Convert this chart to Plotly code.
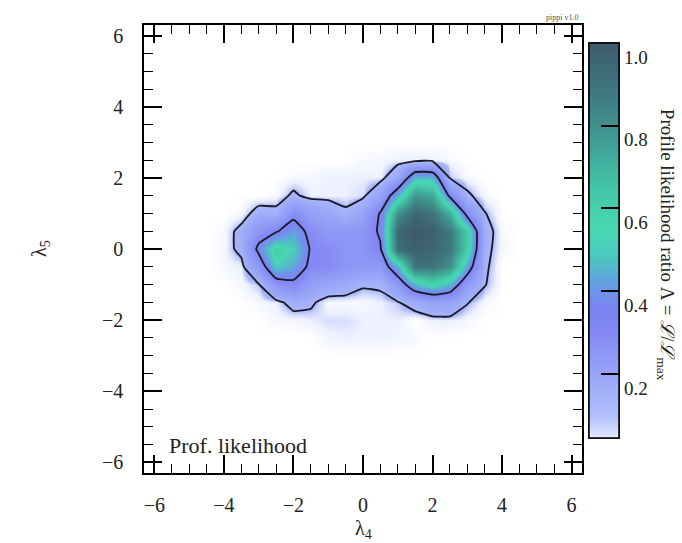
import plotly.graph_objects as go

# ---------------- data (profile likelihood ratio on a grid) ----------------
lam4_vals = [-4.5, -4.0, -3.5, -3.0, -2.5, -2.0, -1.5, -1.0, -0.5, 0.0,
             0.5, 1.0, 1.5, 2.0, 2.5, 3.0, 3.5, 4.0, 4.5]
lam5_vals = [3.0, 2.5, 2.0, 1.5, 1.0, 0.5, 0.0, -0.5, -1.0, -1.5, -2.0, -2.5, -3.0]

lik_y_p30 = [0, 0, 0, 0, 0, 0, 0, 0, 0, 0, 0, 0, 0, 0, 0, 0, 0, 0, 0]
lik_y_p25 = [0, 0, 0, 0, 0, 0, 0, 0, 0, 0.01, 0.01, 0.02, 0.02, 0.02, 0.01, 0, 0, 0, 0]
lik_y_p20 = [0, 0, 0, 0, 0, 0.01, 0.01, 0.02, 0.02, 0.02, 0.02, 0.12, 0.46, 0.45, 0.04, 0.01, 0, 0, 0]
lik_y_p15 = [0, 0, 0, 0, 0.01, 0.06, 0.02, 0.02, 0.02, 0.03, 0.14, 0.45, 0.78, 0.72, 0.28, 0.06, 0.01, 0, 0]
lik_y_p10 = [0, 0, 0.01, 0.08, 0.07, 0.26, 0.16, 0.12, 0.06, 0.14, 0.33, 0.80, 0.95, 0.90, 0.70, 0.25, 0.05, 0, 0]
lik_y_p05 = [0, 0.01, 0.07, 0.22, 0.30, 0.42, 0.26, 0.20, 0.20, 0.22, 0.34, 0.95, 1.00, 0.97, 0.88, 0.60, 0.08, 0.01, 0]
lik_y_000 = [0, 0.01, 0.07, 0.36, 0.60, 0.50, 0.30, 0.26, 0.22, 0.22, 0.30, 0.92, 0.97, 0.95, 0.88, 0.60, 0.07, 0.01, 0]
lik_y_m05 = [0, 0.01, 0.02, 0.20, 0.50, 0.42, 0.28, 0.28, 0.22, 0.20, 0.20, 0.45, 0.90, 0.90, 0.80, 0.42, 0.06, 0, 0]
lik_y_m10 = [0, 0, 0.01, 0.04, 0.22, 0.28, 0.16, 0.12, 0.10, 0.055, 0.06, 0.20, 0.45, 0.55, 0.45, 0.18, 0.05, 0, 0]
lik_y_m15 = [0, 0, 0, 0.01, 0.02, 0.08, 0.06, 0.01, 0.01, 0.01, 0.02, 0.04, 0.09, 0.14, 0.14, 0.05, 0.01, 0, 0]
lik_y_m20 = [0, 0, 0, 0, 0.01, 0.01, 0.02, 0.03, 0.03, 0.02, 0.02, 0.02, 0.0, 0.02, 0.02, 0.01, 0, 0, 0]
lik_y_m25 = [0, 0, 0, 0, 0, 0, 0, 0.015, 0.02, 0.02, 0.02, 0.015, 0.01, 0, 0, 0, 0, 0, 0]
lik_y_m30 = [0, 0, 0, 0, 0, 0, 0, 0, 0, 0, 0, 0, 0, 0, 0, 0, 0, 0, 0]

contour_levels = [0.0455, 0.3166]          # 95.4% and 68.3% CL in 2D
axis_ticks = [-6, -4, -2, 0, 2, 4, 6]
cbar_major = [0.2, 0.4, 0.6, 0.8, 1.0]
cbar_minor = [0.05, 0.10, 0.15, 0.25, 0.30, 0.35, 0.45, 0.50, 0.55,
              0.65, 0.70, 0.75, 0.85, 0.90, 0.95]

z_grid = [lik_y_p30, lik_y_p25, lik_y_p20, lik_y_p15, lik_y_p10, lik_y_p05,
          lik_y_000, lik_y_m05, lik_y_m10, lik_y_m15, lik_y_m20, lik_y_m25, lik_y_m30]

# ---------------- colour maps (value -> colour) ----------------
# map used for the filled likelihood surface
map_vals = [0.0, 0.02, 0.035, 0.0455, 0.10, 0.20, 0.28, 0.33, 0.40, 0.46, 0.53,
            0.62, 0.72, 0.82, 0.92, 1.0]
map_cols = ['#ffffff', '#eef1ff', '#ccd4fc', '#aab5f9', '#9caaf8', '#8e9af6', '#8689f4',
            '#7e84f2', '#6c98e6', '#52bcc8', '#48d8b2', '#45c6a8', '#40a898', '#3f8a88',
            '#3e6e78', '#3e5a6c']
# map shown on the colour bar
cbar_vals = [0.045, 0.10, 0.20, 0.30, 0.36, 0.42, 0.48, 0.55, 0.65, 0.75, 0.85, 1.0]
cbar_cols = ['#e2e8fe', '#b2bffb', '#97a5f9', '#8488f5', '#7a84f2', '#62a0e0',
             '#4cc6c0', '#48dab2', '#44c4a8', '#40a296', '#3f8086', '#3e5a6c']

CB_MIN, CB_MAX = 0.045, 1.0
main_scale = [[v, c] for v, c in zip(map_vals, map_cols)]
cb_scale = [[(v - CB_MIN) / (CB_MAX - CB_MIN), c] for v, c in zip(cbar_vals, cbar_cols)]

FONT = "Liberation Serif"

fig = go.Figure()

fig.add_trace(go.Heatmap(
    x=lam4_vals, y=lam5_vals, z=z_grid,
    zmin=0.0, zmax=1.0, colorscale=main_scale, zsmooth="best",
    showscale=False, hoverinfo="skip"))

fig.add_trace(go.Contour(
    x=lam4_vals, y=lam5_vals, z=z_grid,
    autocontour=False,
    contours=dict(start=contour_levels[0], end=contour_levels[1],
                  size=contour_levels[1] - contour_levels[0], coloring="none"),
    line=dict(color="#1a1a26", width=1.8, smoothing=0.4),
    showscale=False, hoverinfo="skip"))

cb_common = dict(x=1.016, xanchor="left", xpad=0, ypad=0,
                 y=0.96, yanchor="top", lenmode="pixels", len=395,
                 thicknessmode="pixels", thickness=30,
                 outlinewidth=1.5, outlinecolor="black")

# colour bar with minor ticks
fig.add_trace(go.Scatter(
    x=[None], y=[None], mode="markers", showlegend=False, hoverinfo="skip",
    marker=dict(color=[0.5], colorscale=cb_scale, cmin=CB_MIN, cmax=CB_MAX,
                showscale=True,
                colorbar=dict(**cb_common, ticks="inside", ticklen=9, tickwidth=1.3,
                              tickcolor="black", tickvals=cbar_minor,
                              showticklabels=False))))

# colour bar with major ticks + labels
fig.add_trace(go.Scatter(
    x=[None], y=[None], mode="markers", showlegend=False, hoverinfo="skip",
    marker=dict(color=[0.5], colorscale=cb_scale, cmin=CB_MIN, cmax=CB_MAX,
                showscale=True,
                colorbar=dict(**cb_common, ticks="inside", ticklen=18, tickwidth=1.5,
                              tickcolor="black", tickvals=cbar_major,
                              ticktext=["%.1f" % v for v in cbar_major],
                              ticklabelposition="outside bottom",
                              tickfont=dict(family=FONT, size=19, color="#222")))))

axis_common = dict(range=[-6.3, 6.3], tickvals=axis_ticks, showgrid=False, zeroline=False,
                   showline=True, linecolor="black", linewidth=1.6, mirror="allticks",
                   ticks="inside", ticklen=18, tickwidth=1.5, tickcolor="black",
                   tickfont=dict(family=FONT, size=20, color="#222"),
                   minor=dict(ticks="inside", ticklen=9, tickwidth=1.3, tickcolor="black",
                              dtick=0.5, tick0=0, showgrid=False))

fig.update_xaxes(**axis_common, ticklabelstandoff=13)
fig.update_yaxes(**axis_common, ticklabelstandoff=15)

fig.update_layout(
    width=682, height=543,
    margin=dict(l=144, r=100, t=25, b=70),
    plot_bgcolor="white", paper_bgcolor="white",
    font=dict(family=FONT, color="#222"),
    showlegend=False,
    annotations=[
        dict(text="λ<sub>4</sub>", xref="paper", yref="paper", x=0.5, y=0,
             xanchor="center", yanchor="top", yshift=-42, showarrow=False,
             font=dict(family=FONT, size=20, color="#222")),
        dict(text="λ<sub>5</sub>", xref="paper", yref="paper", x=0, y=0.5,
             xanchor="center", yanchor="middle", xshift=-104, textangle=-90,
             showarrow=False, font=dict(family=FONT, size=20, color="#222")),
        dict(text="Prof. likelihood", xref="x", yref="y", x=-5.65, y=-5.52,
             xanchor="left", yanchor="middle", showarrow=False,
             font=dict(family=FONT, size=22, color="#222")),
        dict(text="pippi v1.0", xref="paper", yref="paper", x=0.995, y=1.0,
             xanchor="right", yanchor="bottom", yshift=1, showarrow=False,
             font=dict(family=FONT, size=8, color="#555")),
        dict(text="Profile likelihood ratio Λ = <i>ℒ</i>/<i>ℒ</i><sub>max</sub>",
             xref="paper", yref="paper", x=1.192, y=0.509,
             xanchor="center", yanchor="middle", textangle=90, showarrow=False,
             font=dict(family=FONT, size=19, color="#222")),
    ],
)

fig.write_html("out.html")
